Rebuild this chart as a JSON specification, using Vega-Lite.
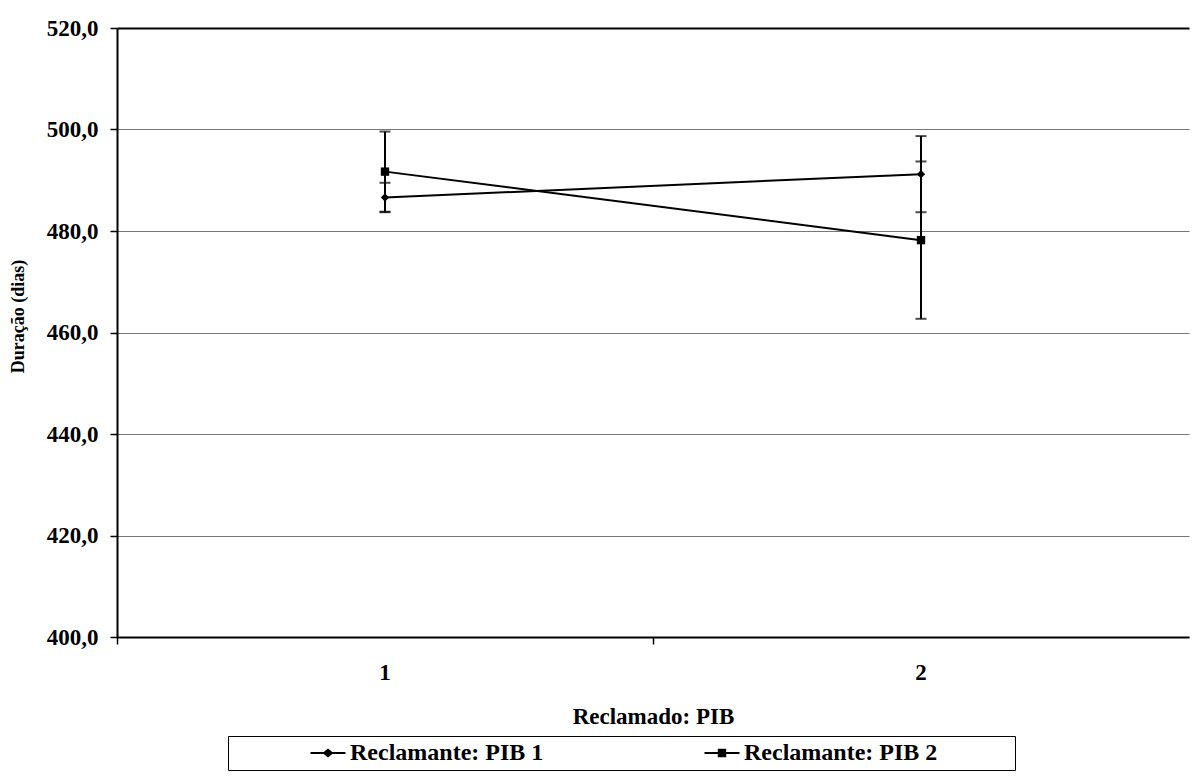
{
  "$schema": "https://vega.github.io/schema/vega-lite/v6.json",
  "autosize": "none",
  "width": 1072,
  "height": 609,
  "padding": {"left": 117, "top": 28, "right": 7, "bottom": 139},
  "background": "white",
  "config": {
    "view": {"stroke": null},
    "font": "Liberation Serif",
    "axis": {"labelFont": "Liberation Serif", "titleFont": "Liberation Serif", "labelFontWeight": "bold", "titleFontWeight": "bold", "labelColor": "black", "titleColor": "black"},
    "legend": {"labelFont": "Liberation Serif", "labelFontWeight": "bold"}
  },
  "data": {
    "values": [
      {"g": "Reclamante: PIB 1", "x": "1", "y": 486.6, "lo": 483.7, "hi": 489.5},
      {"g": "Reclamante: PIB 1", "x": "2", "y": 491.2, "lo": 483.7, "hi": 498.7},
      {"g": "Reclamante: PIB 2", "x": "1", "y": 491.7, "lo": 483.8, "hi": 499.6},
      {"g": "Reclamante: PIB 2", "x": "2", "y": 478.2, "lo": 462.7, "hi": 493.7}
    ]
  },
  "encoding": {
    "x": {
      "field": "x", "type": "ordinal",
      "scale": {"paddingInner": 0, "paddingOuter": 0},
      "axis": {
        "title": "Reclamado: PIB", "labelAngle": 0, "bandPosition": 0,
        "labelFontSize": 23, "titleFontSize": 23, "labelPadding": 17, "titlePadding": 21,
        "ticks": true, "tickSize": 7, "tickColor": "black", "tickWidth": 1.5,
        "domainColor": "black", "domainWidth": 2, "grid": false
      }
    },
    "y": {
      "field": "y", "type": "quantitative",
      "scale": {"domain": [400, 520], "nice": false, "zero": false},
      "axis": {
        "title": "Duração (dias)", "values": [400, 420, 440, 460, 480, 500, 520],
        "labelExpr": "replace(format(datum.value, '.1f'), '.', ',')",
        "labelFontSize": 23, "titleFontSize": 18, "labelPadding": 12,
        "tickSize": 7, "tickColor": "black", "tickWidth": 1.5,
        "domainColor": "black", "domainWidth": 2,
        "grid": true,
        "gridColor": {"condition": {"test": "datum.value == 520", "value": "black"}, "value": "#777777"},
        "gridWidth": {"condition": {"test": "datum.value == 520", "value": 2}, "value": 1},
        "titleX": -90, "titleY": 288
      }
    }
  },
  "resolve": {"scale": {"shape": "independent"}},
  "layer": [
    {
      "mark": {"type": "rule", "color": "black", "strokeWidth": 2},
      "encoding": {"y": {"field": "lo", "type": "quantitative"}, "y2": {"field": "hi"}}
    },
    {
      "mark": {"type": "tick", "color": "black", "size": 11, "thickness": 2, "orient": "horizontal"},
      "encoding": {"y": {"field": "lo", "type": "quantitative"}}
    },
    {
      "mark": {"type": "tick", "color": "black", "size": 11, "thickness": 2, "orient": "horizontal"},
      "encoding": {"y": {"field": "hi", "type": "quantitative"}}
    },
    {
      "mark": {"type": "line", "color": "black", "strokeWidth": 2},
      "encoding": {"detail": {"field": "g", "type": "nominal"}}
    },
    {
      "mark": {"type": "point", "filled": true, "color": "black", "opacity": 1, "size": 70},
      "encoding": {
        "shape": {
          "field": "g", "type": "nominal",
          "scale": {"range": ["diamond", "square"]},
          "legend": null
        }
      }
    },
    {
      "mark": {"type": "point", "filled": true, "color": "black", "opacity": 0, "size": 400},
      "encoding": {
        "shape": {
          "field": "g", "type": "nominal",
          "scale": {"range": [
            "M-1.75,-0.1L1.75,-0.1L1.75,0.1L-1.75,0.1ZM0,-0.45L0.55,0L0,0.45L-0.55,0Z",
            "M-1.75,-0.1L1.75,-0.1L1.75,0.1L-1.75,0.1ZM-0.42,-0.42L0.42,-0.42L0.42,0.42L-0.42,0.42Z"
          ]},
          "legend": {
            "orient": "none", "legendX": 111, "legendY": 708,
            "direction": "horizontal",
            "title": "x", "titleOpacity": 0, "titleOrient": "left", "titleFontSize": 10, "titlePadding": 78,
            "strokeColor": "black", "padding": 5,
            "symbolSize": 400, "symbolOpacity": 1, "symbolFillColor": "black", "symbolStrokeWidth": 0,
            "labelFontSize": 24, "labelOffset": 10, "labelLimit": 800, "labelColor": "black",
            "columnPadding": 160,
            "labelExpr": "datum.label == 'Reclamante: PIB 2' ? datum.label + '         \u2800' : datum.label",
            "encode": {"symbols": {"opacity": {"value": 1}, "fill": {"value": "black"}}}
          }
        }
      }
    }
  ]
}
